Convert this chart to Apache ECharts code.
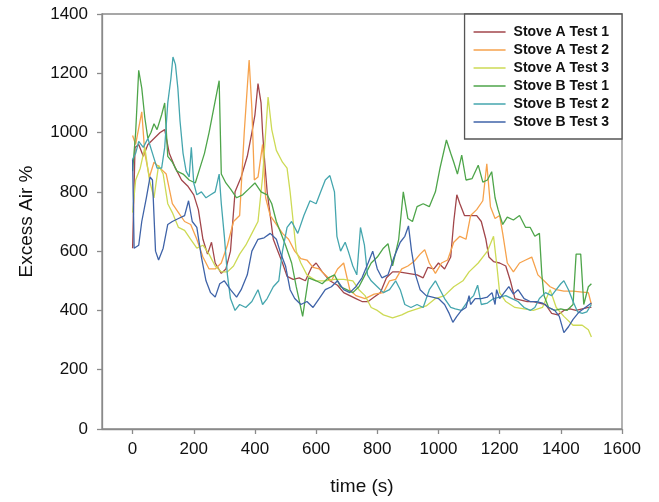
<!DOCTYPE html>
<html>
<head>
<meta charset="utf-8">
<script src="https://cdn.jsdelivr.net/npm/echarts@6/dist/echarts.min.js"></script>
<style>
  html, body { margin: 0; padding: 0; background: #fff; }
  #chart { width: 659px; height: 502px; }
</style>
</head>
<body>
<div id="chart"></div>
<script>
// Excess air (%) over time (s) for two stoves, three tests each: [time, value]
const stoveATest1 = [
  [0,610],[8,950],[20,960],[35,920],[50,960],[70,980],[90,1000],[105,1010],[120,930],[140,880],
  [160,840],[180,820],[200,790],[215,740],[230,640],[245,590],[258,630],[270,560],[290,525],[305,540],
  [320,600],[335,800],[355,850],[375,920],[390,1000],[400,1060],[410,1165],[420,1100],[425,1000],[432,900],
  [440,800],[450,720],[460,640],[475,600],[490,560],[505,515],[525,505],[545,510],[565,500],[585,545],
  [600,560],[620,530],[645,500],[670,485],[690,460],[710,450],[730,440],[750,430],[770,430],[790,445],
  [810,460],[830,510],[850,530],[870,530],[900,525],[930,520],[950,510],[965,545],[985,540],[1000,560],
  [1020,540],[1040,580],[1050,700],[1060,790],[1070,760],[1085,720],[1105,720],[1125,720],[1140,700],[1155,640],
  [1165,580],[1180,565],[1200,560],[1220,550],[1235,500],[1250,440],[1270,435],[1290,430],[1310,430],[1330,425],
  [1350,420],[1370,390],[1390,385],[1410,400],[1430,405],[1450,400],[1470,405],[1490,410],[1500,410]
];
const stoveATest2 = [
  [0,990],[10,960],[30,1070],[40,930],[55,850],[70,900],[90,880],[110,860],[130,760],[150,730],
  [170,700],[190,690],[210,640],[230,580],[250,540],[270,540],[290,560],[310,620],[330,700],[350,720],
  [365,1000],[381,1245],[390,1080],[398,840],[410,850],[425,960],[435,780],[450,720],[470,690],[490,660],
  [510,640],[530,600],[550,575],[570,570],[590,545],[610,540],[630,520],[650,500],[670,540],[690,560],
  [710,470],[730,450],[760,440],[790,455],[820,460],[840,500],[860,505],[880,540],[900,550],[920,565],
  [940,590],[955,605],[970,560],[990,525],[1010,560],[1030,570],[1050,630],[1070,650],[1090,640],[1105,720],
  [1125,740],[1145,770],[1158,895],[1170,750],[1185,710],[1200,720],[1210,660],[1225,560],[1245,530],[1265,560],
  [1285,570],[1305,580],[1325,520],[1345,500],[1365,480],[1385,470],[1410,465],[1440,465],[1470,462],[1490,460],
  [1500,420]
];
const stoveATest3 = [
  [0,730],[10,840],[25,880],[40,950],[55,840],[70,780],[85,890],[100,860],[115,760],[130,730],
  [150,680],[170,670],[190,640],[210,610],[230,620],[250,590],[270,550],[290,530],[310,530],[330,550],
  [350,590],[370,620],[390,660],[410,700],[425,850],[435,1000],[443,1120],[455,1010],[470,940],[490,900],
  [505,880],[515,800],[525,700],[535,600],[550,560],[570,520],[600,500],[630,500],[660,505],[690,505],
  [720,500],[740,470],[760,450],[780,410],[800,400],[820,385],[850,375],[880,385],[900,395],[930,405],
  [960,415],[990,440],[1020,450],[1050,480],[1080,500],[1100,530],[1130,560],[1160,600],[1180,650],[1190,560],
  [1200,460],[1220,430],[1250,410],[1280,405],[1310,400],[1340,410],[1365,470],[1385,410],[1410,380],[1440,350],
  [1470,350],[1490,335],[1500,310]
];
const stoveBTest1 = [
  [0,870],[10,1000],[20,1210],[30,1150],[40,1050],[50,980],[60,1000],[70,1030],[80,1010],[95,1060],
  [105,1100],[115,920],[130,900],[145,870],[165,860],[185,840],[205,830],[220,880],[235,930],[250,1000],
  [265,1080],[283,1175],[290,860],[305,830],[320,810],[340,780],[360,790],[380,810],[400,830],[420,800],
  [440,790],[455,760],[470,700],[485,660],[500,620],[520,560],[535,480],[556,380],[575,510],[600,500],
  [620,490],[640,510],[660,520],[680,480],[700,470],[720,460],[740,480],[760,520],[780,560],[800,580],
  [820,610],[835,625],[850,550],[870,640],[885,800],[900,710],[915,700],[930,750],[950,760],[970,750],
  [990,800],[1005,880],[1026,975],[1040,930],[1050,900],[1062,860],[1076,924],[1090,840],[1110,845],[1130,890],
  [1145,833],[1160,840],[1174,868],[1185,780],[1195,740],[1210,690],[1225,715],[1245,705],[1265,720],[1285,680],
  [1300,680],[1315,650],[1330,660],[1338,520],[1345,450],[1360,410],[1380,400],[1400,405],[1420,400],[1440,420],
  [1450,590],[1465,590],[1475,420],[1490,480],[1500,490]
];
const stoveBTest2 = [
  [0,910],[10,930],[20,970],[35,950],[50,980],[65,930],[80,880],[95,880],[105,950],[115,1100],
  [125,1180],[132,1255],[140,1230],[148,1150],[155,1040],[165,930],[175,870],[185,850],[192,950],[200,830],
  [210,790],[225,800],[240,780],[255,790],[270,800],[283,860],[290,760],[300,650],[310,520],[320,440],
  [335,400],[350,420],[370,410],[390,430],[410,470],[425,420],[440,440],[460,480],[478,500],[490,600],
  [505,680],[520,700],[540,660],[560,720],[580,770],[600,760],[615,800],[630,840],[645,855],[660,800],
  [668,650],[680,600],[695,630],[705,600],[720,550],[733,520],[745,680],[758,620],[768,520],[780,500],
  [800,480],[820,460],[840,470],[860,500],[875,470],[890,420],[910,410],[930,420],[950,410],[970,470],
  [990,500],[1005,470],[1020,440],[1040,410],[1055,405],[1075,400],[1095,430],[1115,450],[1128,485],[1140,420],
  [1160,425],[1180,440],[1200,445],[1220,450],[1240,440],[1260,430],[1280,410],[1300,400],[1315,410],[1330,440],
  [1350,460],[1370,450],[1385,470],[1400,490],[1410,500],[1425,470],[1440,430],[1455,395],[1470,390],[1485,395],
  [1500,420]
];
const stoveBTest3 = [
  [0,910],[5,610],[20,620],[30,700],[45,780],[57,850],[65,840],[75,600],[85,570],[100,610],
  [115,690],[130,700],[150,710],[170,720],[183,770],[195,700],[210,680],[225,580],[240,500],[255,460],
  [270,445],[285,490],[300,500],[320,470],[340,445],[355,470],[375,520],[390,600],[410,640],[430,645],
  [450,660],[470,640],[485,590],[500,550],[515,470],[530,440],[550,420],[570,430],[590,410],[610,440],
  [630,470],[650,480],[670,500],[690,470],[710,460],[730,480],[750,510],[770,560],[785,600],[800,540],
  [815,510],[835,520],[855,580],[875,630],[890,650],[902,685],[912,600],[925,520],[940,470],[960,450],
  [980,445],[1000,440],[1020,420],[1035,390],[1047,360],[1060,380],[1075,400],[1090,410],[1100,450],[1105,420],
  [1120,440],[1140,440],[1160,445],[1175,460],[1185,420],[1190,470],[1200,440],[1215,460],[1230,480],[1245,455],
  [1260,470],[1280,440],[1300,430],[1320,430],[1340,425],[1360,410],[1380,400],[1395,380],[1410,325],[1425,345],
  [1440,370],[1460,395],[1480,410],[1500,425]
];

const seriesNames = ['Stove A Test 1', 'Stove A Test 2', 'Stove A Test 3',
                     'Stove B Test 1', 'Stove B Test 2', 'Stove B Test 3'];
const seriesData = [stoveATest1, stoveATest2, stoveATest3, stoveBTest1, stoveBTest2, stoveBTest3];
const seriesColors = ['#a2464b', '#f6a24c', '#cdda55', '#4ea54a', '#45a6ae', '#3f63a8'];

const xTicks = [0, 200, 400, 600, 800, 1000, 1200, 1400, 1600];

const chart = echarts.init(document.getElementById('chart'), null, { renderer: 'canvas' });
const axisGray = '#8a8a8a';
const font = 'Liberation Sans, Arial, Helvetica, sans-serif';
const plain = v => String(v);

chart.setOption({
  animation: false,
  backgroundColor: '#ffffff',
  color: seriesColors,
  grid: {
    left: 102, right: 37, top: 14, bottom: 73,
    show: true, borderColor: axisGray, borderWidth: 1.3
  },
  legend: {
    data: seriesNames,
    orient: 'vertical',
    right: 37,
    top: 14,
    padding: [11, 13, 10, 9],
    itemGap: 4,
    itemWidth: 32,
    itemHeight: 1.6,
    icon: 'rect',
    borderColor: '#555',
    borderWidth: 1.3,
    backgroundColor: '#fff',
    textStyle: { fontFamily: font, fontWeight: 'bold', fontSize: 14, color: '#111', lineHeight: 14, padding: [0, 0, 0, 3] }
  },
  xAxis: {
    type: 'value',
    min: -100,
    max: 1600,
    name: 'time (s)',
    nameLocation: 'middle',
    nameGap: 48,
    nameTextStyle: { fontFamily: font, fontSize: 19, color: '#111' },
    axisLine: { show: true, onZero: false, lineStyle: { color: axisGray, width: 1.3 } },
    axisTick: { show: true, inside: false, length: 5, customValues: xTicks, lineStyle: { color: axisGray, width: 1.3 } },
    axisLabel: { customValues: xTicks, formatter: plain, fontFamily: font, fontSize: 17, color: '#111', margin: 12 },
    splitLine: { show: false }
  },
  yAxis: {
    type: 'value',
    min: 0,
    max: 1400,
    interval: 200,
    name: 'Excess Air %',
    nameLocation: 'middle',
    nameGap: 66,
    nameTextStyle: { fontFamily: font, fontSize: 19, color: '#111' },
    axisLine: { show: true, onZero: false, lineStyle: { color: axisGray, width: 1.3 } },
    axisTick: { show: true, inside: false, length: 5, lineStyle: { color: axisGray, width: 1.3 } },
    axisLabel: { formatter: plain, fontFamily: font, fontSize: 17, color: '#111', margin: 14 },
    splitLine: { show: false }
  },
  series: seriesNames.map((name, i) => ({
    name: name,
    type: 'line',
    data: seriesData[i],
    symbol: 'none',
    lineStyle: { width: 1.3, color: seriesColors[i] },
    itemStyle: { color: seriesColors[i] }
  }))
});
</script>
</body>
</html>
